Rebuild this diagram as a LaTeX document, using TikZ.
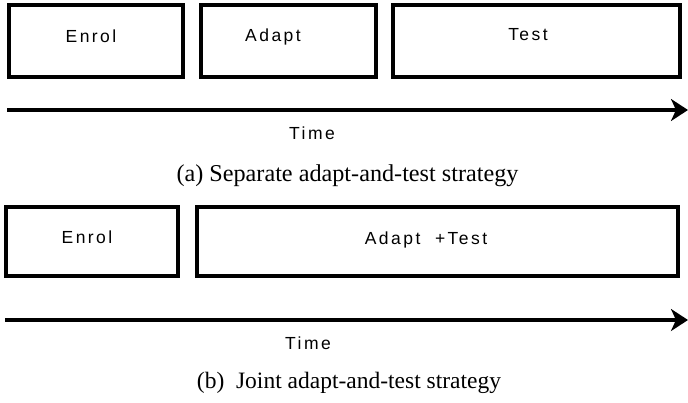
\documentclass[tikz,border=0pt]{standalone}
\usepackage{fontspec}
\setmainfont{Liberation Serif}
\setsansfont{Liberation Sans}[LetterSpace=14]
\usetikzlibrary{arrows.meta}
\tikzset{
  stagebox/.style={draw=black, line width=3.2pt, inner sep=0pt, fill=none},
  stagetext/.style={font=\sffamily\fontsize{17.5}{20}\selectfont, inner sep=0pt, anchor=center},
  timeaxis/.style={line width=3.2pt, -{Stealth[length=17pt, width=22pt, inset=5pt]}},
  captext/.style={font=\fontsize{23.5}{28}\selectfont, inner sep=0pt, anchor=center}
}
\begin{document}
\begin{tikzpicture}[x=1pt, y=-1pt]
\useasboundingbox (0,0) rectangle (688,402);
% (a)
\node[stagebox, minimum width=174pt, minimum height=72pt] (ea) at (96,41) {};
\node[stagebox, minimum width=175pt, minimum height=72pt] (aa) at (288.5,41) {};
\node[stagebox, minimum width=287pt, minimum height=72pt] (ta) at (536.5,41) {};
\node[stagetext] (eat) at (91,36) {Enrol};
\node[stagetext] (aat) at (273,37) {Adapt};
\node[stagetext] (tat) at (528,35) {Test};
\coordinate (sa) at (7,110);
\coordinate (fa) at (688,110);
\draw[timeaxis] (sa) -- (fa);
\node[stagetext] (tima) at (312,133) {Time};
\node[captext, font=\fontsize{24.2}{28}\selectfont] (capa) at (347.5,176) {(a)\ Separate adapt-and-test strategy};
% (b)
\node[stagebox, minimum width=172pt, minimum height=69pt] (eb) at (92,241.5) {};
\node[stagebox, minimum width=481pt, minimum height=69pt] (ab) at (437.5,241.5) {};
\node[stagetext] (ebt) at (87,237) {Enrol};
\node[stagetext] (abt) at (426,240) {Adapt\ \ +Test};
\coordinate (sb) at (5,320);
\coordinate (fb) at (688,320);
\draw[timeaxis] (sb) -- (fb);
\node[stagetext] (timb) at (308,343) {Time};
\node[captext] (capb) at (349,383) {(b)\ \ Joint adapt-and-test strategy};
\end{tikzpicture}
\end{document}
